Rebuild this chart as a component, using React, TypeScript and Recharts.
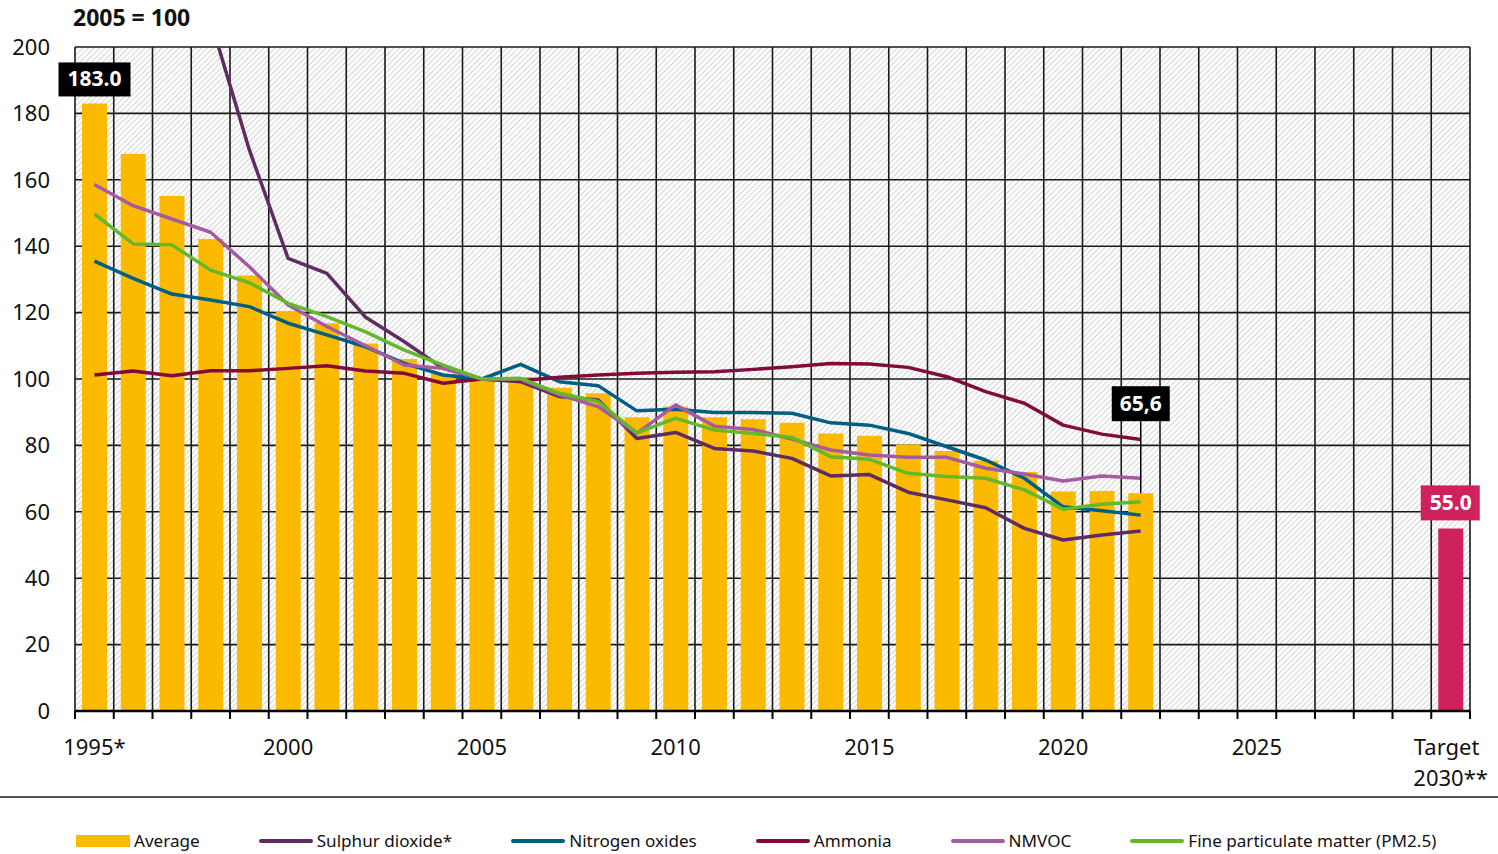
import { ComposedChart, Bar, Line, XAxis, YAxis, CartesianGrid, Cell, LabelList, Legend } from "recharts";

document.body.style.margin = "0";

const FONT = "'Noto Sans', sans-serif";

const YEARS = Array.from({ length: 36 }, (_, i) => 1995 + i);
const AVERAGE = [
  183.0, 167.8, 155.1, 142.2, 131.2, 120.3, 116.8, 110.7, 106.0, 101.5, 100.0, 100.6, 97.4, 95.7,
  88.5, 91.7, 88.5, 87.9, 86.8, 83.6, 82.9, 80.3, 78.3, 75.4, 72.0, 66.1, 66.3, 65.6,
];
const TARGET_2030 = 55.0;
// values above 200 are not visible in the chart
const SULPHUR = [
  null, null, null, 208, 169, 136.3, 131.8, 118.6, 111.2, 103.2, 100, 99.2, 94.7, 93.7,
  82.1, 83.9, 79.1, 78.3, 76.1, 70.8, 71.2, 65.9, 63.6, 61.2, 55.0, 51.5, 53.0, 54.2,
];
const NITROGEN = [
  135.5, 130.3, 125.6, 123.8, 121.8, 116.8, 113.3, 109.7, 104.7, 101.2, 100, 104.4, 99.2, 98.0,
  90.4, 90.9, 89.9, 89.9, 89.7, 86.8, 86.1, 83.6, 79.6, 75.6, 70.1, 61.5, 60.3, 59.0,
];
const AMMONIA = [
  101.2, 102.4, 101.0, 102.5, 102.5, 103.2, 104.0, 102.4, 101.7, 98.7, 100, 99.5, 100.5, 101.2,
  101.7, 102.0, 102.2, 102.9, 103.7, 104.7, 104.5, 103.5, 100.7, 96.2, 92.7, 86.1, 83.4, 81.8,
];
const NMVOC = [
  158.6, 152.2, 148.2, 144.2, 133.8, 122.3, 115.8, 110.0, 104.2, 103.2, 100, 99.9, 95.2, 91.7,
  83.6, 92.2, 85.8, 84.8, 81.9, 78.6, 77.1, 76.4, 76.4, 73.1, 71.4, 69.3, 70.8, 70.1,
];
const PM25 = [
  149.7, 140.7, 140.4, 132.8, 129.0, 122.8, 118.8, 114.2, 108.7, 104.2, 100, 100.2, 95.7, 93.2,
  83.8, 88.2, 84.6, 83.6, 82.4, 76.6, 75.8, 71.6, 70.6, 70.1, 66.6, 60.8, 62.3, 63.0,
];
const Y_TICKS = [0, 20, 40, 60, 80, 100, 120, 140, 160, 180, 200];

const COLORS = {
  average: "#fbb900",
  target: "#cf215d",
  sulphur: "#5e2c61",
  nitrogen: "#005e85",
  ammonia: "#820b3c",
  nmvoc: "#a45ba2",
  pm25: "#64b82b",
};

const SERIES = [
  { key: "sulphur", name: "Sulphur dioxide*", color: COLORS.sulphur },
  { key: "nitrogen", name: "Nitrogen oxides", color: COLORS.nitrogen },
  { key: "ammonia", name: "Ammonia", color: COLORS.ammonia },
  { key: "nmvoc", name: "NMVOC", color: COLORS.nmvoc },
  { key: "pm25", name: "Fine particulate matter (PM2.5)", color: COLORS.pm25 },
];

const LAST_AVG = AVERAGE.length - 1;
const TARGET_INDEX = YEARS.indexOf(2030);

const data = YEARS.map((year, i) => ({
  year: String(year),
  value: i < AVERAGE.length ? AVERAGE[i] : year === 2030 ? TARGET_2030 : null,
  sulphur: SULPHUR[i] ?? null,
  nitrogen: NITROGEN[i] ?? null,
  ammonia: AMMONIA[i] ?? null,
  nmvoc: NMVOC[i] ?? null,
  pm25: PM25[i] ?? null,
}));

const N = YEARS.length;

function XTick(props: any) {
  const { x, y, payload } = props;
  const year = Number(payload.value);
  const bw = (payload.offset ?? 1395 / N / 2) * 2;
  const left = x - bw / 2;
  const isLast = payload.index === N - 1;
  let label: string[] | null = null;
  if (year === 1995) label = ["1995*"];
  else if (year === 2030) label = ["Target", "2030**"];
  else if (year % 5 === 0) label = [String(year)];
  return (
    <g>
      <line x1={left} x2={left} y1={y} y2={y + 8} stroke="#000" strokeWidth={2} />
      {isLast && <line x1={left + bw} x2={left + bw} y1={y} y2={y + 8} stroke="#000" strokeWidth={2} />}
      {label && (
        <text x={x} y={y + 44} textAnchor="middle" fontSize={22} fontFamily={FONT} fill="#111">
          {label.map((t, k) => (
            <tspan key={k} x={label!.length > 1 && k === 0 ? x - 4 : x} dy={k === 0 ? 0 : 31}>
              {t}
            </tspan>
          ))}
        </text>
      )}
    </g>
  );
}

function ValueBadge(props: any) {
  const { x, y, width, index, value } = props;
  if (value == null) return null;
  const cx = x + width / 2;
  if (index === 0) {
    return (
      <g>
        <rect x={cx - 36} y={y - 41} width={72} height={34} fill="#000" />
        <text x={cx} y={y - 17} textAnchor="middle" fontSize={21} fontWeight="bold" fontFamily={FONT} fill="#fff">
          {Number(value).toFixed(1)}
        </text>
      </g>
    );
  }
  if (index === LAST_AVG) {
    const boxBottom = y - 72;
    return (
      <g>
        <line x1={cx} x2={cx} y1={y} y2={boxBottom} stroke="#000" strokeWidth={1.5} />
        <rect x={cx - 29} y={boxBottom - 35} width={58} height={35} fill="#000" />
        <text x={cx} y={boxBottom - 10} textAnchor="middle" fontSize={21} fontWeight="bold" fontFamily={FONT} fill="#fff">
          {Number(value).toFixed(1).replace(".", ",")}
        </text>
      </g>
    );
  }
  // the only bar after the averages is the 2030 target
  if (index > LAST_AVG || index === TARGET_INDEX) {
    return (
      <g>
        <rect x={cx - 30} y={y - 43} width={59} height={35} fill={COLORS.target} />
        <text x={cx} y={y - 18} textAnchor="middle" fontSize={21} fontWeight="bold" fontFamily={FONT} fill="#fff">
          {Number(value).toFixed(1)}
        </text>
      </g>
    );
  }
  return null;
}

function LegendBox() {
  const items = [{ name: "Average", color: COLORS.average, bar: true }, ...SERIES.map((s) => ({ ...s, bar: false }))];
  return (
    <div style={{ height: 64, position: "relative", fontFamily: FONT }}>
      <div style={{ position: "absolute", top: 6, left: 0, width: 1498, height: 2, background: "#555" }} />
      <div style={{ position: "absolute", top: 39, left: 76, display: "flex", gap: 59, alignItems: "center" }}>
        {items.map((it) => (
          <div key={it.name} style={{ display: "flex", alignItems: "center" }}>
            <div style={{ width: 54, height: it.bar ? 12 : 4, background: it.color, marginRight: 4, borderRadius: it.bar ? 0 : 2 }} />
            <span style={{ fontSize: 17.1, color: "#111", whiteSpace: "nowrap" }}>{it.name}</span>
          </div>
        ))}
      </div>
    </div>
  );
}

export default function App() {
  return (
    <ComposedChart
      width={1498}
      height={854}
      data={data}
      margin={{ top: 47, right: 28, left: 0, bottom: 0 }}
      style={{ fontFamily: FONT }}
    >
      <defs>
        <pattern id="hatch" width="4" height="4" patternUnits="userSpaceOnUse" patternTransform="rotate(45)">
          <rect width="4" height="4" fill="#fff" />
          <line x1="0" y1="0" x2="0" y2="4" stroke="#c8c8c8" strokeWidth="1.6" />
        </pattern>
      </defs>
      <text x={73} y={26} fontSize={23} fontWeight="bold" fontFamily={FONT} fill="#111">
        2005 = 100
      </text>
      <CartesianGrid
        fill="url(#hatch)"
        fillOpacity={1}
        stroke="#1a1a1a"
        strokeWidth={1.6}
        horizontalValues={Y_TICKS}
        verticalCoordinatesGenerator={({ offset }: any) =>
          Array.from({ length: N + 1 }, (_, i) => offset.left + (i * offset.width) / N)
        }
      />
      <XAxis
        dataKey="year"
        interval={0}
        height={79}
        tickSize={0}
        tickMargin={0}
        tickLine={false}
        axisLine={{ stroke: "#000", strokeWidth: 2.5 }}
        tick={<XTick />}
      />
      <YAxis
        domain={[0, 200]}
        ticks={Y_TICKS}
        allowDataOverflow
        width={75}
        axisLine={false}
        tickLine={false}
        tickSize={0}
        tickMargin={25}
        tick={{ fontSize: 22, fill: "#111", fontFamily: FONT }}
      />
      <Bar dataKey="value" barSize={25} isAnimationActive={false}>
        {data.map((d, i) => (
          <Cell key={i} fill={i === TARGET_INDEX ? COLORS.target : COLORS.average} />
        ))}
        <LabelList dataKey="value" content={<ValueBadge />} />
      </Bar>
      {SERIES.map((s) => (
        <Line
          key={s.key}
          dataKey={s.key}
          name={s.name}
          type="linear"
          stroke={s.color}
          strokeWidth={3.5}
          strokeLinejoin="round"
          dot={false}
          activeDot={false}
          isAnimationActive={false}
        />
      ))}
      <Legend verticalAlign="bottom" content={<LegendBox />} />
    </ComposedChart>
  );
}
